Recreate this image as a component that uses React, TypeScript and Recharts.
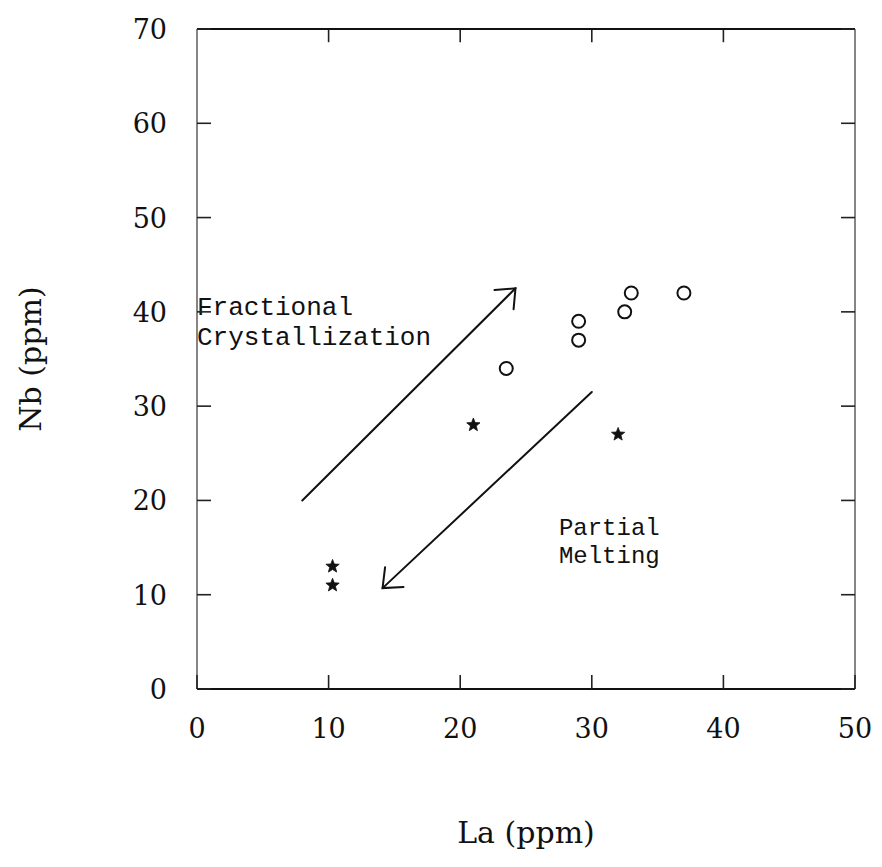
import React from 'react';
import { ScatterChart, Scatter, XAxis, YAxis, ReferenceLine, ReferenceDot } from 'recharts';

// La / Nb (ppm) samples
const circleLa = [23.5, 29, 29, 32.5, 33, 37];
const circleNb = [34, 39, 37, 40, 42, 42];
const starLa = [10.3, 10.3, 21, 32];
const starNb = [13, 11, 28, 27];

const xTicks = [0, 10, 20, 30, 40, 50];
const yTicks = [0, 10, 20, 30, 40, 50, 60, 70];

// trend arrows: [start, end] in La/Nb units
const fcArrow = [[8, 20], [24.2, 42.5]];
const pmArrow = [[30, 31.5], [14.1, 10.7]];

const circles = circleLa.map((la, i) => ({ la, nb: circleNb[i] }));
const stars = starLa.map((la, i) => ({ la, nb: starNb[i] }));

const INK = '#111';
const TICK_INK = '#222';
const TICK_W = 1.6;
const TICK_FONT = 'DejaVu Serif, serif';
const NOTE_FONT = 'Liberation Mono, DejaVu Sans Mono, monospace';
const TICK_LEN = 14;
// inner tick length on the top frame, in Nb units (~13px at 660px per 70 ppm)
const TOP_TICK_NB = 1.4;

const BottomTick = (props: any) => {
  const { x, y, payload } = props;
  return (
    <g>
      <line x1={x} y1={y} x2={x} y2={y - TICK_LEN} stroke={TICK_INK} strokeWidth={TICK_W} />
      <text x={x} y={y + 49} textAnchor="middle" fontFamily={TICK_FONT} fontSize={27} fill={INK}>
        {payload.value}
      </text>
    </g>
  );
};

const LeftTick = (props: any) => {
  const { x, y, payload } = props;
  return (
    <g>
      <line x1={x} y1={y} x2={x + TICK_LEN} y2={y} stroke={TICK_INK} strokeWidth={TICK_W} />
      <text x={x - 30} y={y + 10} textAnchor="end" fontFamily={TICK_FONT} fontSize={27} fill={INK}>
        {payload.value}
      </text>
    </g>
  );
};

const RightTick = (props: any) => {
  const { x, y } = props;
  return <line x1={x} y1={y} x2={x - TICK_LEN} y2={y} stroke={TICK_INK} strokeWidth={TICK_W} />;
};

const StarMark = (props: any) => {
  const { cx, cy } = props;
  const pts: string[] = [];
  for (let k = 0; k < 10; k++) {
    const r = k % 2 === 0 ? 7 : 3;
    const a = -Math.PI / 2 + (k * Math.PI) / 5;
    pts.push(`${cx + r * Math.cos(a)},${cy + r * Math.sin(a)}`);
  }
  return <polygon points={pts.join(' ')} fill={INK} stroke={INK} strokeWidth={0.8} />;
};

const RingMark = (props: any) => {
  const { cx, cy } = props;
  return <circle cx={cx} cy={cy} r={6.5} fill="none" stroke={INK} strokeWidth={2} />;
};

// straight shaft with an open "V" head at the end point
const ArrowShape = (props: any) => {
  const { x1, y1, x2, y2 } = props;
  const ang = Math.atan2(y2 - y1, x2 - x1);
  const len = 21;
  const spread = (40 * Math.PI) / 180;
  const h1x = x2 - len * Math.cos(ang - spread);
  const h1y = y2 - len * Math.sin(ang - spread);
  const h2x = x2 - len * Math.cos(ang + spread);
  const h2y = y2 - len * Math.sin(ang + spread);
  return (
    <g fill="none" stroke={INK} strokeWidth={2} strokeLinecap="round">
      <line x1={x1} y1={y1} x2={x2} y2={y2} />
      <polyline points={`${h1x},${h1y} ${x2},${y2} ${h2x},${h2y}`} />
    </g>
  );
};

const TickShape = (props: any) => {
  const { x1, y1, x2, y2 } = props;
  return <line x1={x1} y1={y1} x2={x2} y2={y2} stroke={TICK_INK} strokeWidth={TICK_W} />;
};

const noteLabel = (lines: string[], size: number, gap: number) => (props: any) => {
  const { viewBox } = props;
  return (
    <text fontFamily={NOTE_FONT} fontSize={size} fill={INK}>
      {lines.map((s, i) => (
        <tspan key={s} x={viewBox.x} y={viewBox.y + i * gap}>
          {s}
        </tspan>
      ))}
    </text>
  );
};

const XTitle = (props: any) => {
  const { viewBox } = props;
  return (
    <text
      x={viewBox.x + viewBox.width / 2}
      y={viewBox.y + 154}
      textAnchor="middle"
      fontFamily={TICK_FONT}
      fontSize={30}
      fill={INK}
    >
      La (ppm)
    </text>
  );
};

const YTitle = (props: any) => {
  const { viewBox } = props;
  const x = viewBox.x + 20;
  const y = viewBox.y + viewBox.height / 2;
  return (
    <text
      x={x}
      y={y}
      transform={`rotate(-90 ${x} ${y})`}
      textAnchor="middle"
      dominantBaseline="central"
      fontFamily={TICK_FONT}
      fontSize={30}
      fill={INK}
    >
      Nb (ppm)
    </text>
  );
};

export default function App() {
  const yTop = yTicks[yTicks.length - 1];
  return (
    <div style={{ position: 'absolute', left: 0, top: 0, background: '#fff' }}>
      <ScatterChart width={882} height={867} margin={{ top: 19, right: 17, bottom: 18, left: 10 }}>
        <XAxis
          type="number"
          dataKey="la"
          domain={[0, 50]}
          ticks={xTicks}
          interval={0}
          height={160}
          tickSize={0}
          tickMargin={0}
          tick={<BottomTick />}
          axisLine={{ stroke: INK, strokeWidth: 2 }}
          tickLine={false}
          label={<XTitle />}
        />
        <XAxis
          xAxisId="top"
          orientation="top"
          type="number"
          dataKey="la"
          domain={[0, 50]}
          ticks={xTicks}
          height={10}
          tick={false}
          axisLine={{ stroke: INK, strokeWidth: 2 }}
          tickLine={false}
        />
        <YAxis
          type="number"
          dataKey="nb"
          domain={[0, 70]}
          ticks={yTicks}
          interval={0}
          width={187}
          tickSize={0}
          tickMargin={0}
          tick={<LeftTick />}
          axisLine={{ stroke: '#444', strokeWidth: 1.3 }}
          tickLine={false}
          label={<YTitle />}
        />
        <YAxis
          yAxisId="right"
          orientation="right"
          type="number"
          dataKey="nb"
          domain={[0, 70]}
          ticks={yTicks}
          interval={0}
          width={10}
          tickSize={0}
          tickMargin={0}
          tick={<RightTick />}
          axisLine={{ stroke: '#444', strokeWidth: 1.3 }}
          tickLine={false}
        />
        {/* inward ticks hanging from the top frame */}
        {xTicks.slice(1, -1).map((t) => (
          <ReferenceLine
            key={`top-${t}`}
            segment={[{ x: t, y: yTop }, { x: t, y: yTop - TOP_TICK_NB }]}
            shape={TickShape}
          />
        ))}
        <ReferenceLine
          segment={[{ x: fcArrow[0][0], y: fcArrow[0][1] }, { x: fcArrow[1][0], y: fcArrow[1][1] }]}
          shape={ArrowShape}
        />
        <ReferenceLine
          segment={[{ x: pmArrow[0][0], y: pmArrow[0][1] }, { x: pmArrow[1][0], y: pmArrow[1][1] }]}
          shape={ArrowShape}
        />
        <ReferenceDot
          x={0}
          y={39.7}
          r={0}
          fill="none"
          stroke="none"
          label={{ content: noteLabel(['Fractional', 'Crystallization'], 26, 30) }}
        />
        <ReferenceDot
          x={27.5}
          y={16.3}
          r={0}
          fill="none"
          stroke="none"
          label={{ content: noteLabel(['Partial', 'Melting'], 24, 28) }}
        />
        <Scatter data={circles} shape={RingMark} isAnimationActive={false} />
        <Scatter data={stars} shape={StarMark} isAnimationActive={false} />
        {/* mirror series so the top and right frame axes get a domain */}
        <Scatter data={circles} xAxisId="top" yAxisId="right" shape={() => null} isAnimationActive={false} />
      </ScatterChart>
    </div>
  );
}
